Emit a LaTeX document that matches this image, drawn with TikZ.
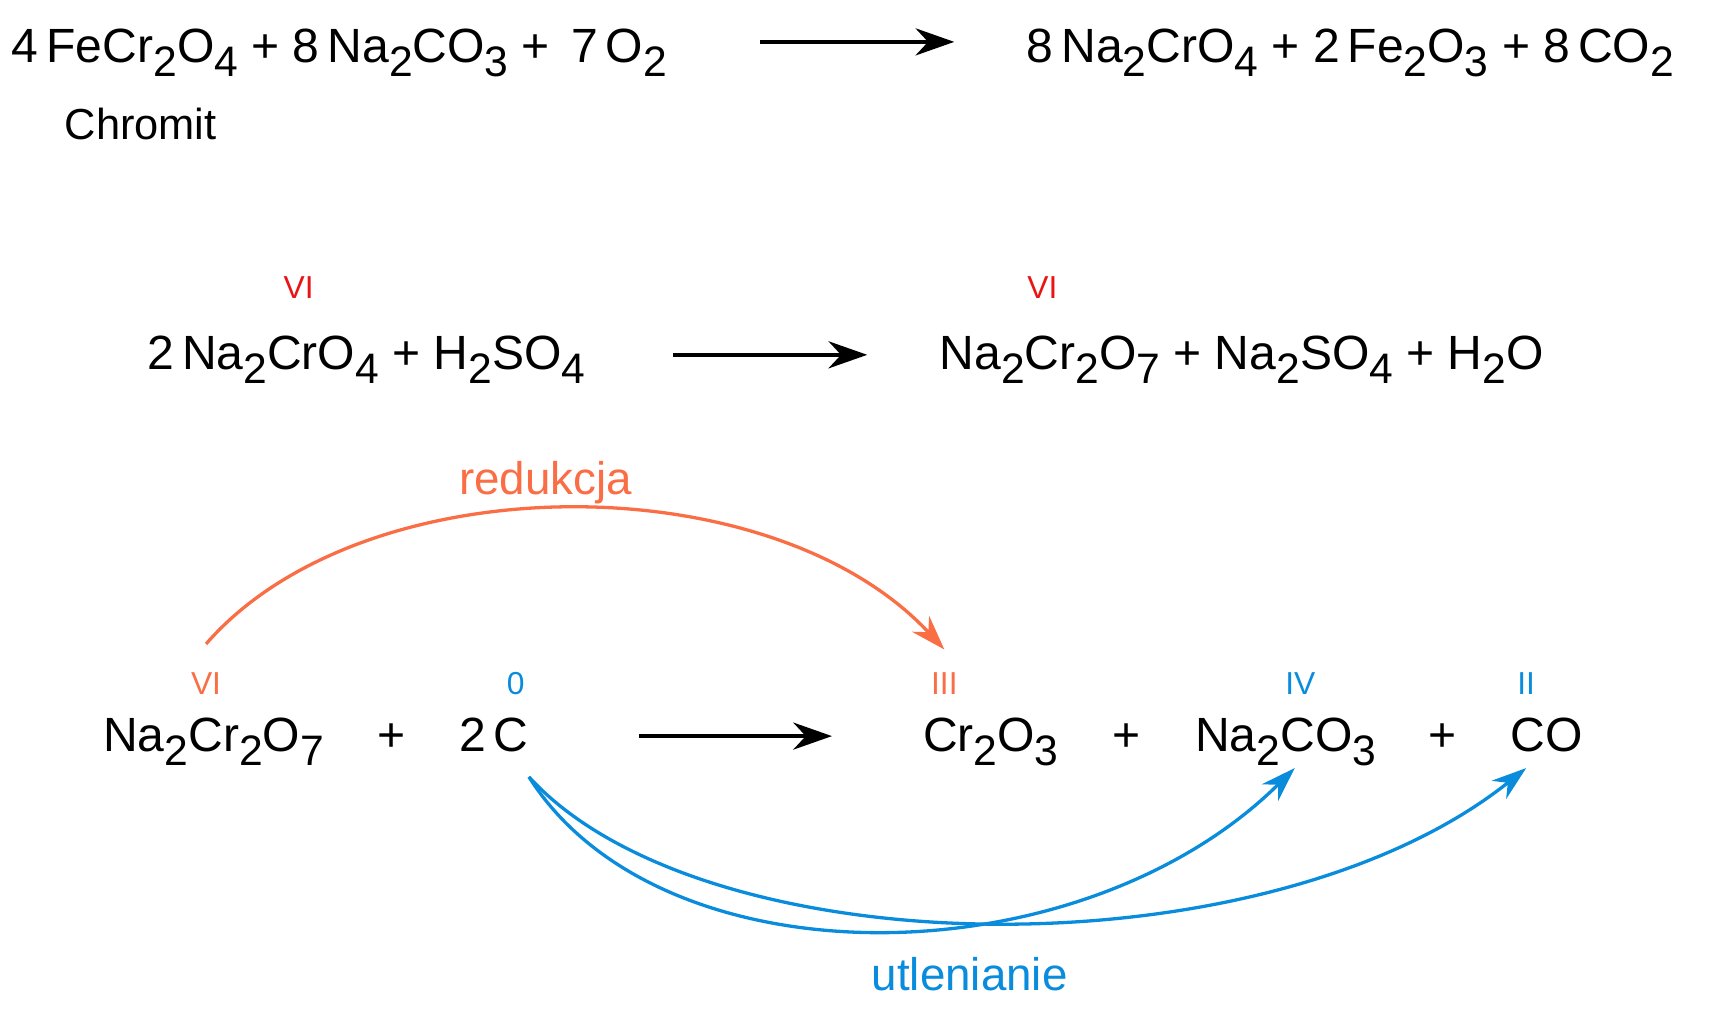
\documentclass[tikz,border=0pt]{standalone}
\usepackage{fontspec}
\setmainfont{Liberation Sans}
\usepackage{xcolor}
\usetikzlibrary{arrows.meta,positioning}
\definecolor{redox}{RGB}{250,110,70}
\definecolor{oxblue}{RGB}{10,140,220}
\definecolor{oxred}{RGB}{235,20,20}
\newcommand\ix[1]{\raisebox{-0.55ex}{\fontsize{11}{12}\selectfont #1}}
\tikzset{
  chem/.style={inner sep=0pt, anchor=base west, font=\fontsize{12.4}{15}\selectfont},
  ox/.style={inner sep=0pt, font=\fontsize{8.2}{10}\selectfont},
  react/.style={-{Stealth[length=10pt,width=7pt]}, line width=0.9pt},
  trans/.style={-{Stealth[length=9pt,width=6pt]}, line width=0.85pt}
}
\begin{document}
\begin{tikzpicture}[x=0.01cm,y=-0.01cm]
\useasboundingbox (0,0) rectangle (1560,917);
% the first reaction
\node[chem] (chromA) at (10,57) {4\,FeCr\ix{2}O\ix{4} + 8\,Na\ix{2}CO\ix{3} +\, 7\,O\ix{2}};
\node[chem] (chromB) at (931,57) {8\,Na\ix{2}CrO\ix{4} + 2\,Fe\ix{2}O\ix{3} + 8\,CO\ix{2}};
\node[chem, font=\fontsize{11.2}{14}\selectfont] (chromit) at (58,127) {Chromit};
\coordinate (a1) at (690,38);
\coordinate (b1) at (866,38);
% the second reaction
\node[chem] (acidA) at (133,335) {2\,Na\ix{2}CrO\ix{4} + H\ix{2}SO\ix{4}};
\node[chem] (acidB) at (852,335) {Na\ix{2}Cr\ix{2}O\ix{7} + Na\ix{2}SO\ix{4} + H\ix{2}O};
\node[ox, text=oxred] (ox1) at (271,261) {VI};
\node[ox, text=oxred] (ox2) at (946,261) {VI};
\coordinate (a2) at (611,322);
\coordinate (b2) at (787,322);
% the third reaction
\node[chem] (dichrom) at (93,682) {Na\ix{2}Cr\ix{2}O\ix{7}};
\node[chem] (plusA) at (342,682) {+};
\node[chem] (carbon) at (416,682) {2\,C};
\node[chem] (oxide) at (837,682) {Cr\ix{2}O\ix{3}};
\node[chem] (plusB) at (1009,682) {+};
\node[chem] (soda) at (1084,682) {Na\ix{2}CO\ix{3}};
\node[chem] (plusC) at (1296,682) {+};
\node[chem] (monox) at (1370,682) {CO};
\coordinate (a3) at (580,668);
\coordinate (b3) at (755,668);
\node[ox, text=redox] (vi) at (187,620) {VI};
\node[ox, text=oxblue] (zero) at (468,620) {0};
\node[ox, text=redox] (iii) at (857,620) {III};
\node[ox, text=oxblue] (iv) at (1180,620) {IV};
\node[ox, text=oxblue] (ii) at (1385,620) {II};
\node[ox, text=redox, font=\fontsize{11.8}{14}\selectfont] (red) at (495,438) {redukcja};
\node[ox, text=oxblue, font=\fontsize{11.8}{14}\selectfont] (utl) at (880,884) {utlenianie};
\coordinate (cS) at (480,705);
\coordinate (sodaS) at (1175,697);
\coordinate (monoS) at (1385,697);

%the arrows
\draw[react] (a1) -- (b1);
\draw[react] (a2) -- (b2);
\draw[react] (a3) -- (b3);
\draw[trans, redox] ([yshift=0.25cm]vi.north) .. controls (330,420) and (700,420) .. ([yshift=0.2cm]iii.north);
\draw[trans, oxblue] (cS) .. controls (600,895) and (980,890) .. (sodaS);
\draw[trans, oxblue] (cS) .. controls (640,880) and (1150,885) .. (monoS);
\end{tikzpicture}
\end{document}
